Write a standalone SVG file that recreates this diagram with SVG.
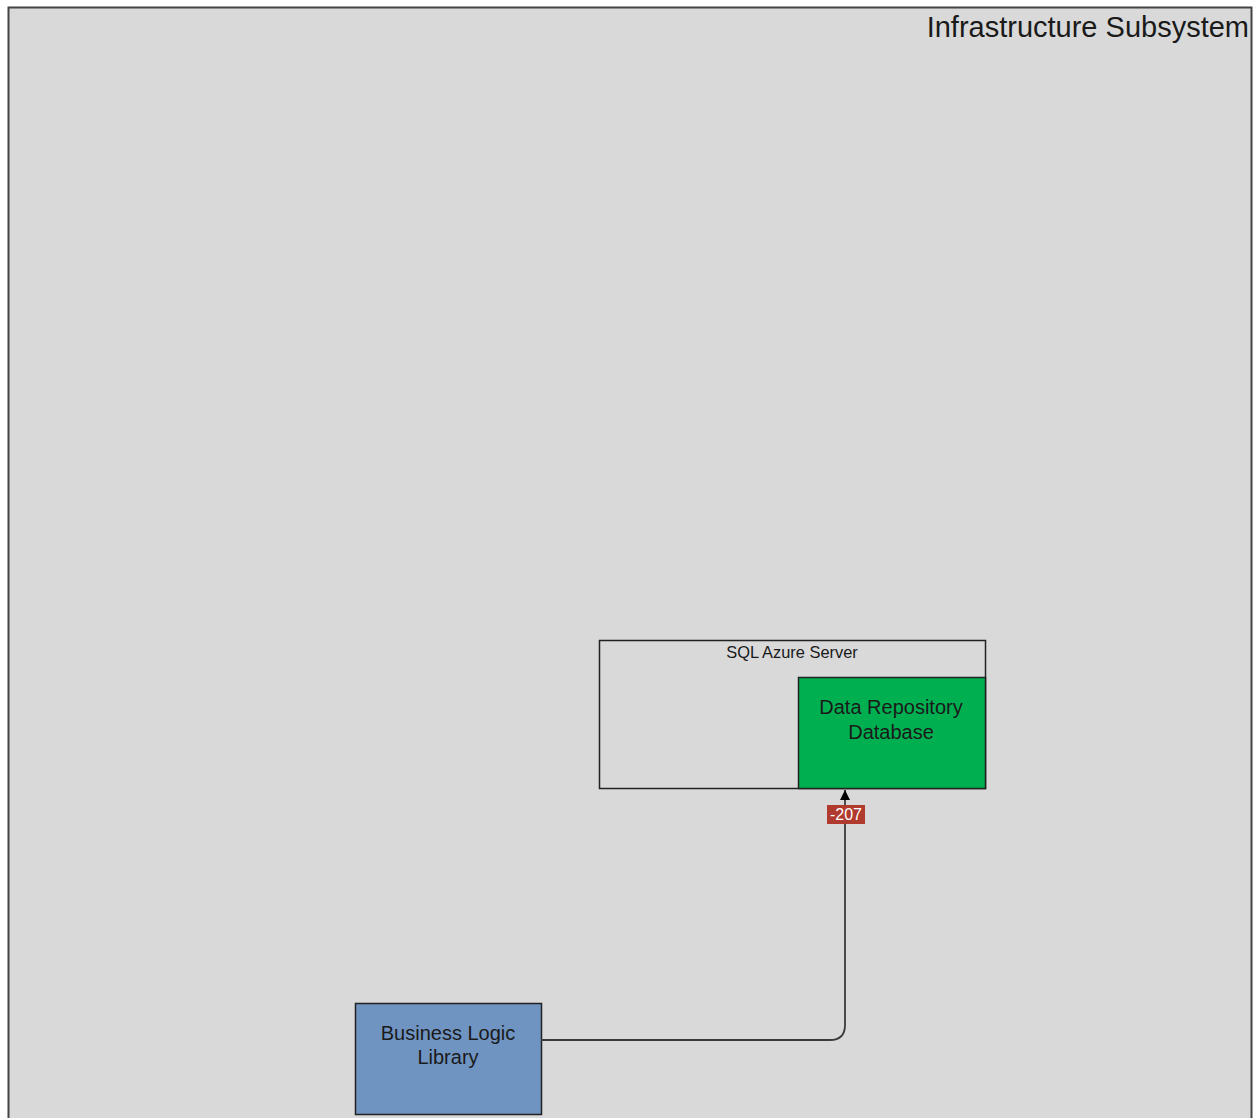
<svg xmlns="http://www.w3.org/2000/svg" width="1255" height="1118" viewBox="0 0 1255 1118">
  <defs>
    <marker id="arrow" viewBox="0 0 10 10" refX="10" refY="5" markerWidth="10" markerHeight="10" markerUnits="userSpaceOnUse" orient="auto">
      <path d="M0,0 L10,5 L0,10 Z" fill="#000"/>
    </marker>
  </defs>
  <style>
    text { font-family: "Liberation Sans", Arial, sans-serif; fill: #1a1a1a; }
    .box { stroke: #222; stroke-width: 1.5; }
    .label { font-size: 20px; text-anchor: middle; }
  </style>
  <rect width="1255" height="1118" fill="#ffffff"/>

  <g id="infrastructure-subsystem">
    <rect x="8.5" y="7.5" width="1243" height="1120" fill="#d9d9d9" stroke="#444" stroke-width="2"/>
    <text x="1249" y="37" font-size="29" text-anchor="end">Infrastructure Subsystem</text>
  </g>

  <g id="sql-azure-server">
    <rect class="box" x="599.5" y="640.5" width="386" height="148" fill="#d9d9d9"/>
    <text x="792" y="658" font-size="16.4" text-anchor="middle">SQL Azure Server</text>
  </g>

  <g id="data-repository-database">
    <rect class="box" x="798.5" y="677.5" width="187" height="111" fill="#00b050"/>
    <text class="label" x="891" y="714">Data Repository</text>
    <text class="label" x="891" y="739">Database</text>
  </g>

  <g id="business-logic-library">
    <rect class="box" x="355.5" y="1003.5" width="186" height="111" fill="#7094c2"/>
    <text class="label" x="448" y="1040">Business Logic</text>
    <text class="label" x="448" y="1064">Library</text>
  </g>

  <g id="connectors">
    <path d="M541,1040 H830 Q845,1040 845,1025 V790" fill="none" stroke="#3a3a3a" stroke-width="1.8" marker-end="url(#arrow)"/>
    <rect x="827" y="805" width="38" height="19" fill="#b03a2e"/>
    <text x="846" y="820" font-size="16" text-anchor="middle" style="fill:#ffffff">-207</text>
  </g>
</svg>
